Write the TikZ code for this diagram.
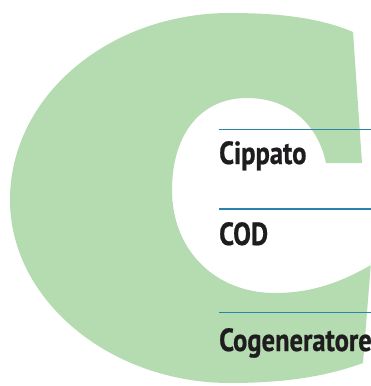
\documentclass[tikz,border=0pt]{standalone}
\usepackage{fontspec}
\setmainfont{PT Sans}
\newfontfamily\labfont[FakeStretch=0.83,FakeBold=0.6]{PT Sans Bold}
\definecolor{cgreen}{RGB}{181,219,176}
\definecolor{cline}{RGB}{40,132,170}
\definecolor{ctext}{RGB}{30,28,30}
\begin{document}
\begin{tikzpicture}[x=1pt,y=-1pt,
  rule/.style={draw=cline,line width=1.1pt},
  lab/.style={anchor=base west,inner sep=0pt,text=ctext,font=\labfont\fontsize{32}{36}\selectfont}]
\useasboundingbox (0,0) rectangle (371,386);
\fill[cgreen] (353,32) .. controls (320,18) and (280,13) .. (230,13)
  .. controls (109,13) and (10,96) .. (10,200)
  .. controls (10,300) and (110,383) .. (230,383)
  .. controls (290,383) and (330,375) .. (363,363)
  -- (371,262) -- (371,265)
  .. controls (345,280) and (315,293) .. (275,293)
  .. controls (215,293) and (172,250) .. (172,190)
  .. controls (172,135) and (200,98) .. (247,98)
  .. controls (290,98) and (318,125) .. (326,163)
  -- (362,163) -- cycle;
\coordinate (l1a) at (219,129.5); \coordinate (l1b) at (371,129.5);
\coordinate (l2a) at (219,209); \coordinate (l2b) at (371,209);
\coordinate (l3a) at (219,312.5); \coordinate (l3b) at (371,312.5);
\draw[rule] (l1a) -- (l1b);
\draw[rule] (l2a) -- (l2b);
\draw[rule] (l3a) -- (l3b);
\node[lab] (cip) at (219,164) {Cippato};
\node[lab] (cod) at (219,245) {COD};
\node[lab] (cog) at (219,351) {Cogeneratore};
\end{tikzpicture}
\end{document}
